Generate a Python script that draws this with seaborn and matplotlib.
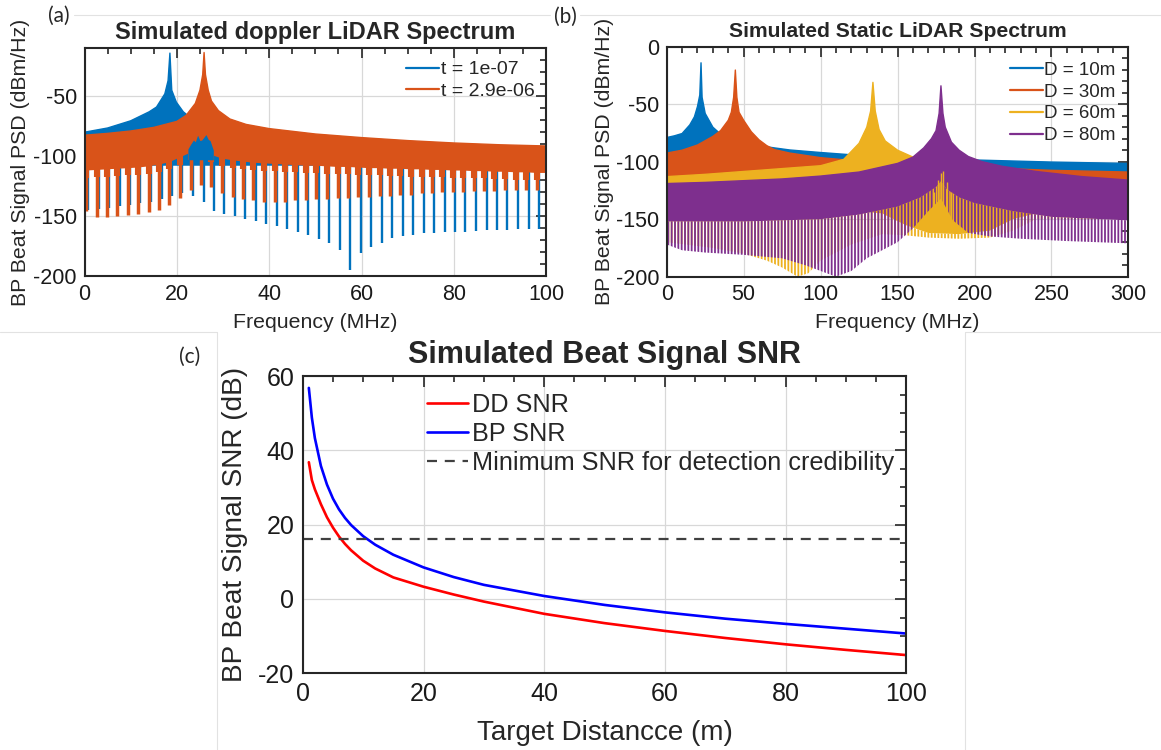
import numpy as np
import pandas as pd
import matplotlib
matplotlib.use("Agg")
import matplotlib.pyplot as plt
import seaborn as sns
from matplotlib.lines import Line2D
from matplotlib.ticker import MultipleLocator

# ======================= DATA =======================
# ---- panel (a): simulated doppler LiDAR spectrum
a_labels = ["t = 1e-07", "t = 2.9e-06"]
a_blue_top_f = [0, 5, 10, 14, 15.6, 17.4, 18.1, 18.5, 18.9, 19.9, 21.4, 23, 26, 30, 40, 60, 80, 100]
a_blue_top_v = [-80, -76.5, -70.5, -63, -59, -48, -37, -14, -45, -55, -63, -68, -72, -76, -82, -87, -90.5, -93]
a_blue_floor = -108
a_blue_tooth_f = [0.8, 3.1, 5.3, 7.6, 9.9, 12.1, 14.4, 16.7, 18.9, 21.2,
                  23.5, 25.8, 28.0, 30.3, 32.6, 34.8, 37.1, 39.4, 41.7, 43.9,
                  46.2, 48.5, 50.7, 53.0, 55.3, 57.6, 59.8, 62.1, 64.4, 66.6,
                  68.9, 71.2, 73.5, 75.7, 78.0, 80.3, 82.5, 84.8, 87.1, 89.3,
                  91.6, 93.9, 96.2, 98.4]
a_blue_tip = [-145, -144, -143, -142, -141, -139, -138, -136, -133, -131,
              -133, -138, -146, -148, -150, -152.5, -154.5, -156.5, -158.5, -161,
              -163, -165.5, -169, -172.5, -178, -195, -181, -175.5, -172.5, -168.5,
              -167, -166, -164.5, -164, -163.5, -163, -163, -162.5, -162, -162,
              -161.5, -161, -161, -160.5]
a_or_top_f = [0, 5, 10, 15, 20, 22, 24, 25, 25.6, 25.9, 26.2, 26.8, 27.5, 29, 31.5,
              35, 40, 50, 60, 70, 80, 90, 100]
a_or_top_v = [-82.5, -81, -79, -76, -71, -66, -56, -45, -32, -13.5, -32, -45, -54, -62, -69,
              -73.5, -77, -81.5, -84.5, -87, -89, -90.5, -91.5]
a_or_tooth_f = [0.3, 2.6, 4.8, 7.1, 9.4, 11.6, 13.9, 16.2, 18.4, 20.7,
                23.0, 25.3, 27.5, 29.8, 32.1, 34.3, 36.6, 38.9, 41.2, 43.4,
                45.7, 48.0, 50.2, 52.5, 54.8, 57.1, 59.3, 61.6, 63.9, 66.1,
                68.4, 70.7, 73.0, 75.2, 77.5, 79.8, 82.0, 84.3, 86.6, 88.8,
                91.1, 93.4, 95.7, 97.9]
a_or_floor = [-112, -111.5, -111, -110.5, -110, -109.5, -108.5, -107, -105, -101,
              -97, -96, -99, -102, -103.5, -104.5, -105.5, -106, -106.5, -107,
              -107.5, -108, -108, -108.5, -109, -109, -109.5, -110, -110, -110.5,
              -110.5, -111, -111, -111.5, -111.5, -112, -112, -112.5, -112.5, -113,
              -113, -113.5, -113.5, -114]
a_or_tip = [-146, -151, -151, -150, -149, -148, -147, -145, -141, -135,
            -128, -124, -126, -131, -134, -136, -137, -138, -138, -138,
            -137, -137, -136, -136, -135, -135, -134, -134, -133, -133,
            -132, -132, -131, -131, -130, -130, -130, -129, -129, -129,
            -128, -128, -128, -128]
a_bump_f = [22.4, 23.0, 23.6, 24.0, 24.5, 25.0, 25.4, 25.9, 26.3, 26.8, 27.2, 27.9]
a_bump_top = [-94, -90, -86.5, -88, -82.5, -87, -86.5, -84, -82, -86, -87, -95]
a_bump_floor = -103

# ---- panel (b): simulated static LiDAR spectrum
b_labels = ["D = 10m", "D = 30m", "D = 60m", "D = 80m"]
b_blue_top_f = [0, 5, 10, 15, 18, 20, 21.5, 22.3, 23, 25, 30, 35, 40, 50, 60, 70, 80,
                100, 125, 150, 175, 200, 250, 300]
b_blue_top_v = [-79, -77.5, -75.5, -68, -61, -52, -42, -14, -44, -58, -70, -76, -80.5,
                -83.5, -86, -88, -89.8, -92, -94.5, -96.2, -97.4, -98.5, -100.3, -101.5]
b_blue_floor = -122
b_or_top_f = [0, 10, 20, 30, 35, 40, 42, 43.5, 44.6, 45.6, 47, 50, 55, 60, 65, 70, 80,
              100, 125, 150, 175, 200, 250, 300]
b_or_top_v = [-92.5, -90, -85.5, -78, -73, -64, -57, -44, -20.3, -44, -57, -64, -74, -81,
              -86, -89.5, -92.5, -96.5, -99.5, -102, -104, -105, -107.5, -109]
b_or_floor = -122
b_ye_top_f = [0, 25, 50, 75, 100, 115, 125, 130, 132.5, 134, 135.5, 138, 142, 150, 160,
              170, 180, 200, 250, 300]
b_ye_top_v = [-113, -111, -108.5, -106, -103.5, -98, -84, -70, -56, -31, -56, -72, -82,
              -90, -96, -100.5, -103.5, -107.5, -112.5, -117]
b_ye_floor_f = [0, 100, 140, 155, 170, 190, 210, 225, 240, 300]
b_ye_floor_v = [-140, -140, -145, -155, -162, -163, -160, -150, -145, -145]
b_ye_dip_f = [0, 30, 50, 65, 75, 85, 92, 100, 120, 140, 155, 170, 190, 210, 225, 240, 300]
b_ye_dip_v = [-170, -175, -180, -186, -192, -200, -197, -186, -172, -163, -164, -166,
              -167, -166, -160, -150, -150]
b_ye_spike_f = [174.0, 176.5, 178.0, 179.5, 182.0, 185.0]
b_ye_spike_top = [-126, -116, -110, -108, -118, -126]
b_ye_spike_bot = -150
b_pu_top_f = [0, 25, 50, 75, 100, 125, 150, 160, 167, 172, 175, 177, 178.2, 179.5, 181,
              185, 190, 196, 205, 218, 240, 270, 300]
b_pu_top_v = [-119, -118, -116.5, -115, -112.5, -109, -101.5, -96, -88, -80, -73, -58,
              -34, -58, -70, -83, -90, -95.5, -100, -104, -108.5, -113, -116]
b_pu_floor_f = [0, 50, 100, 125, 150, 165, 175, 178.2, 182, 190, 200, 225, 250, 300]
b_pu_floor_v = [-152, -152, -150, -146, -139, -131, -122, -117, -124, -131, -136, -143,
                -148, -151]
b_pu_dip_f = [0, 10, 25, 50, 75, 90, 100, 110, 120, 130, 140, 150, 160, 170, 178.2, 186,
              196, 210, 230, 260, 300]
b_pu_dip_v = [-172, -177, -179, -181, -184, -190, -195, -200, -195, -184, -177, -170,
              -158, -143, -132, -151, -162, -165, -167, -169, -171]

# ---- panel (c): simulated beat-signal SNR
c_dist = [1, 1.5, 2, 3, 4, 5, 6, 7, 8, 10, 12, 15, 20, 25, 30, 40, 50, 60, 70, 80, 90, 100]
c_bp = [56.8, 48.8, 43.3, 35.8, 30.8, 27.0, 24.1, 21.8, 19.9, 16.9, 14.6, 11.9, 8.5,
        5.9, 3.8, 0.8, -1.6, -3.6, -5.3, -6.7, -8.0, -9.3]
c_dd = [36.8, 32.0, 29.5, 25.5, 22.0, 19.2, 16.8, 14.8, 13.1, 10.3, 8.2, 5.8, 3.3,
        1.2, -0.7, -4.0, -6.5, -8.6, -10.5, -12.2, -13.7, -15.1]
c_min_snr = 16.2
c_labels = ["DD SNR", "BP SNR", "Minimum SNR for detection credibility"]

# ======================= STYLE =======================
sns.set_theme(style="white")
plt.rcParams["font.family"] = ["Liberation Sans", "DejaVu Sans"]
plt.rcParams["axes.unicode_minus"] = False
plt.rcParams["hatch.linewidth"] = 1.3

C_BLUE, C_ORANGE, C_YELLOW, C_PURPLE = "#0072BD", "#D95319", "#EDB120", "#7E2F8E"
AX_COL = "#262626"

W, H = 1161, 750
fig = plt.figure(figsize=(W / 100, H / 100), dpi=100)
fig.patch.set_facecolor("white")


def rect(l, t, r, b):
    return [l / W, 1 - b / H, (r - l) / W, (b - t) / H]


ax_a = fig.add_axes(rect(84.5, 48.3, 546.2, 276))
ax_b = fig.add_axes(rect(666.7, 46.7, 1128.4, 276.7))
ax_c = fig.add_axes(rect(302.8, 376, 906.3, 673.3))


def style_axes(ax, xmaj, xmin, ymaj, ymin, fs, maj_len, min_len, pad):
    ax.xaxis.set_major_locator(MultipleLocator(xmaj))
    ax.xaxis.set_minor_locator(MultipleLocator(xmin))
    ax.yaxis.set_major_locator(MultipleLocator(ymaj))
    ax.yaxis.set_minor_locator(MultipleLocator(ymin))
    ax.tick_params(which="both", direction="in", top=True, right=True,
                   color=AX_COL, width=1.2, labelcolor="#1a1a1a")
    ax.tick_params(which="major", length=maj_len, labelsize=fs, pad=pad)
    ax.tick_params(which="minor", length=min_len)
    for sp in ax.spines.values():
        sp.set_visible(True)
        sp.set_linewidth(1.5)
        sp.set_color(AX_COL)
        sp.set_zorder(10)
    ax.grid(True, which="major", color="#d8d8d8", lw=0.9)
    ax.set_axisbelow(True)
    ax.set_facecolor("white")


# ======================= PANEL (a) =======================
ax = ax_a
ax.fill(np.r_[a_blue_top_f, 100, 0], np.r_[a_blue_top_v, a_blue_floor, a_blue_floor],
        color=C_BLUE, lw=0, zorder=2)
ax.vlines(a_blue_tooth_f, a_blue_tip, -95, color=C_BLUE, lw=1.7, zorder=2)
sns.lineplot(x=a_blue_top_f, y=a_blue_top_v, color=C_BLUE, lw=1.0, ax=ax, zorder=2.1)
or_x = np.r_[a_or_top_f, 100, a_or_tooth_f[::-1], 0]
or_y = np.r_[a_or_top_v, a_or_floor[-1], a_or_floor[::-1], a_or_floor[0]]
ax.fill(or_x, or_y, color=C_ORANGE, lw=0, zorder=3)
ax.vlines(a_or_tooth_f, np.array(a_or_floor) - 6, np.array(a_or_floor) + 1,
          color=C_ORANGE, lw=4.4, zorder=3)
ax.vlines(a_or_tooth_f, a_or_tip, a_or_floor, color=C_ORANGE, lw=2.5, zorder=3)
sns.lineplot(x=a_or_top_f, y=a_or_top_v, color=C_ORANGE, lw=1.0, ax=ax, zorder=3.1)
ax.fill_between(a_bump_f, a_bump_top, a_bump_floor, color=C_BLUE, lw=0, zorder=4)
ax.set_xlim(0, 100)
ax.set_ylim(-200, -10)
style_axes(ax, 20, 5, 50, 10, 15.5, 7, 4, 5.5)
ax.set_title("Simulated doppler LiDAR Spectrum", fontsize=17, fontweight="bold", pad=7)
ax.set_xlabel("Frequency (MHz)", fontsize=15.3, va="center")
ax.xaxis.set_label_coords(0.5, -0.206)
ax.set_ylabel("BP Beat Signal PSD (dBm/Hz)", fontsize=15.3, va="center")
ax.yaxis.set_label_coords(-0.1397, 0.5)
h_a = [Line2D([], [], color=C_BLUE, lw=1.6), Line2D([], [], color=C_ORANGE, lw=1.6)]
ax.legend(h_a, a_labels, loc="upper right", bbox_to_anchor=(0.9757, 0.945), frameon=False,
          fontsize=14, handlelength=1.7, handletextpad=0.1, labelspacing=0.2,
          borderpad=0, borderaxespad=0)

# ======================= PANEL (b) =======================
ax = ax_b
ax.fill(np.r_[b_blue_top_f, 300, 0], np.r_[b_blue_top_v, b_blue_floor, b_blue_floor],
        color=C_BLUE, lw=0, zorder=2)
sns.lineplot(x=b_blue_top_f, y=b_blue_top_v, color=C_BLUE, lw=1.0, ax=ax, zorder=2.1)
ax.fill(np.r_[b_or_top_f, 300, 0], np.r_[b_or_top_v, b_or_floor, b_or_floor],
        color=C_ORANGE, lw=0, zorder=3)
sns.lineplot(x=b_or_top_f, y=b_or_top_v, color=C_ORANGE, lw=1.0, ax=ax, zorder=3.1)
ax.fill(np.r_[b_ye_top_f, b_ye_floor_f[::-1]], np.r_[b_ye_top_v, b_ye_floor_v[::-1]],
        color=C_YELLOW, lw=0, zorder=4)
ax.fill(np.r_[b_ye_floor_f, b_ye_dip_f[::-1]], np.r_[b_ye_floor_v, b_ye_dip_v[::-1]],
        facecolor="none", edgecolor=C_YELLOW, hatch="|||||", lw=0, zorder=4)
sns.lineplot(x=b_ye_top_f, y=b_ye_top_v, color=C_YELLOW, lw=1.0, ax=ax, zorder=4.1)
ax.fill(np.r_[b_pu_top_f, b_pu_floor_f[::-1]], np.r_[b_pu_top_v, b_pu_floor_v[::-1]],
        color=C_PURPLE, lw=0, zorder=5)
ax.fill(np.r_[b_pu_floor_f, b_pu_dip_f[::-1]], np.r_[b_pu_floor_v, b_pu_dip_v[::-1]],
        facecolor="none", edgecolor=C_PURPLE, hatch="|||||", lw=0, zorder=5)
sns.lineplot(x=b_pu_top_f, y=b_pu_top_v, color=C_PURPLE, lw=1.0, ax=ax, zorder=5.1)
ax.vlines(b_ye_spike_f, b_ye_spike_bot, b_ye_spike_top, color=C_YELLOW, lw=1.0, zorder=6)
ax.set_xlim(0, 300)
ax.set_ylim(-200, 0)
style_axes(ax, 50, 10, 50, 10, 15.5, 7, 4, 5.5)
ax.set_title("Simulated Static LiDAR Spectrum", fontsize=15.2, fontweight="bold", pad=7)
ax.set_xlabel("Frequency (MHz)", fontsize=15.3, va="center")
ax.xaxis.set_label_coords(0.5, -0.201)
ax.set_ylabel("BP Beat Signal PSD (dBm/Hz)", fontsize=15.3, va="center")
ax.yaxis.set_label_coords(-0.1358, 0.5)
h_b = [Line2D([], [], color=c, lw=1.6) for c in (C_BLUE, C_ORANGE, C_YELLOW, C_PURPLE)]
ax.legend(h_b, b_labels, loc="upper right", bbox_to_anchor=(0.973, 0.935), frameon=False,
          fontsize=13.5, handlelength=1.76, handletextpad=0.1, labelspacing=0.25,
          borderpad=0, borderaxespad=0)

# ======================= PANEL (c) =======================
ax = ax_c
n = len(c_dist)
df_c = pd.DataFrame({"dist": c_dist * 2, "snr": c_dd + c_bp,
                     "series": [c_labels[0]] * n + [c_labels[1]] * n})
sns.lineplot(data=df_c, x="dist", y="snr", hue="series",
             palette={c_labels[0]: "#ff0000", c_labels[1]: "#0000ff"},
             lw=1.9, ax=ax, legend=False)
dash = (0, (4.5, 3.5))
ax.axhline(c_min_snr, color="#404040", lw=1.6, ls=dash)
ax.set_xlim(0, 100)
ax.set_ylim(-20, 60)
style_axes(ax, 20, 5, 20, 5, 18, 8, 4.5, 6)
ax.set_title("Simulated Beat Signal SNR", fontsize=22, fontweight="bold", pad=9)
ax.set_xlabel("Target Distancce (m)", fontsize=20, va="center")
ax.xaxis.set_label_coords(0.5, -0.2008)
ax.set_ylabel("BP Beat Signal SNR (dB)", fontsize=20.2, va="center")
ax.yaxis.set_label_coords(-0.1123, 0.5)
h_c = [Line2D([], [], color="#ff0000", lw=1.9), Line2D([], [], color="#0000ff", lw=1.9),
       Line2D([], [], color="#404040", lw=1.6, ls=dash)]
ax.legend(h_c, c_labels, loc="upper left", bbox_to_anchor=(0.206, 0.944), frameon=False,
          fontsize=18.2, handlelength=1.6, handletextpad=0.16, labelspacing=0.2,
          borderpad=0, borderaxespad=0)

# ======================= decorations =======================
def fig_line(x0, y0, x1, y1):
    fig.add_artist(Line2D([x0 / W, x1 / W], [1 - y0 / H, 1 - y1 / H],
                          transform=fig.transFigure, color="#e2e2e2", lw=0.8))


fig_line(74, 15, 550, 15)
fig_line(580, 15, 1161, 15)
fig_line(0, 332, 217, 332)
fig_line(217, 332, 217, 750)
fig_line(965, 332, 965, 750)
fig_line(965, 332, 1161, 332)

lab_font = ["Lato", "DejaVu Sans"]
fig.text(59 / W, 1 - 16 / H, "(a)", ha="center", va="center", fontsize=15, family=lab_font)
fig.text(565 / W, 1 - 17 / H, "(b)", ha="center", va="center", fontsize=15, family=lab_font)
fig.text(190 / W, 1 - 357 / H, "(c)", ha="center", va="center", fontsize=15, family=lab_font)

fig.savefig("out.png", dpi=100, facecolor="white")
